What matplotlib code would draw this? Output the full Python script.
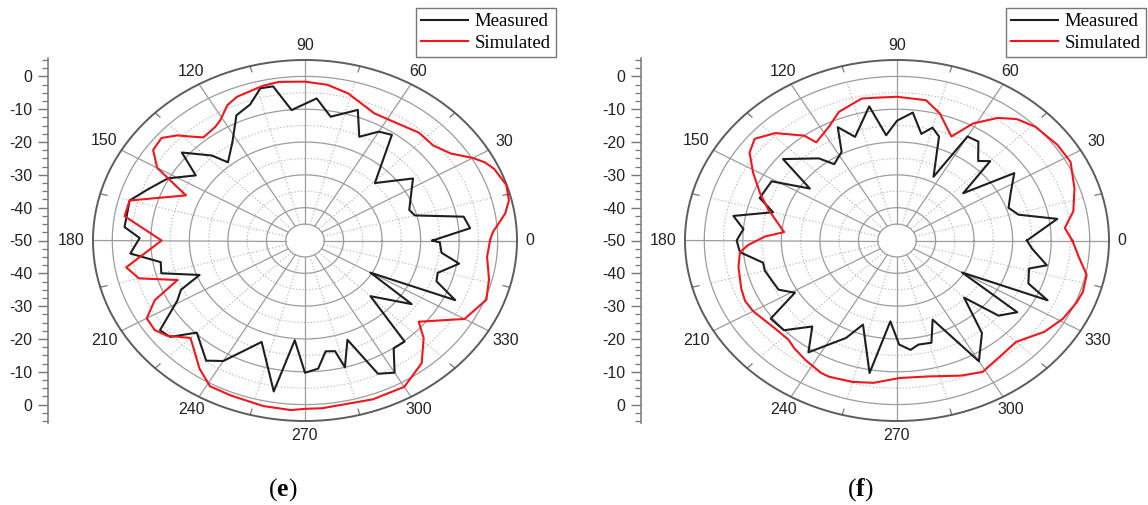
import numpy as np
import matplotlib
matplotlib.use("Agg")
import matplotlib.pyplot as plt
from matplotlib.ticker import MultipleLocator, FixedLocator, FixedFormatter
from matplotlib.lines import Line2D

plt.rcParams["font.family"] = ["Liberation Sans", "DejaVu Sans"]
plt.rcParams["mathtext.fontset"] = "custom"
plt.rcParams["mathtext.rm"] = "Liberation Serif"
plt.rcParams["mathtext.bf"] = "Liberation Serif:bold"

# ---- panel (e): radiation pattern, angle in degrees, gain in dB ----
meas_e_ang = [0, 5, 10, 15, 19, 34, 44, 55, 60, 66, 71, 80, 86, 95, 100, 104, 109, 115, 122, 130,
              133, 140, 145, 152, 159, 165, 175, 179, 185, 190, 195, 201, 205, 209, 216, 220, 225,
              235, 240, 250, 260, 265, 270, 275, 279, 283, 285, 290, 295, 300, 305, 310, 315, 325,
              330, 335, 340, 344, 350, 354, 359]
meas_e_db = [-16.9, -7.0, -8.2, -20.5, -21.4, -16.2, -24.8, -10.7, -11.7, -15.4, -7.9, -11.7, -6.6,
             -10.1, -2.3, -2.2, -6.2, -7.9, -14.5, -18.9, -14.6, -8.3, -15.4, -9.7, -6.4, -2.9, -3.0,
             -7.1, -4.5, -12.0, -11.4, -20.7, -14.5, -12.1, -3.5, -4.3, -10.3, -5.3, -7.6, -17.1,
             -3.3, -19.5, -9.7, -10.8, -15.8, -15.4, -10.0, -17.8, -5.2, -3.5, -9.9, -9.8, -26.0,
             -16.2, -30.4, -7.0, -13.7, -14.2, -9.4, -14.4, -15.0]
sim_e_ang = [0, 3, 9, 13, 18, 24, 27, 30, 35, 41, 48, 56, 65, 76, 83, 90, 98, 103, 112, 116, 121,
             124, 130, 133, 136, 140, 145, 150, 156, 165, 171, 180, 190, 195, 200, 205, 210, 215,
             219, 225, 235, 241, 248, 258, 266, 270, 275, 290, 300, 309, 316, 320, 330, 339, 346, 354]
sim_e_db = [-2.0, -1.2, 2.6, 4.3, 4.9, 3.7, 2.4, 0.3, -3.8, -5.9, -5.8, -7.0, -7.3, -3.8, -2.2, -1.6,
            -1.2, -1.6, -2.8, -4.1, -7.3, -8.3, -9.0, -6.7, -3.9, -1.4, -1.9, -5.7, -16.2, -2.9,
            -2.6, -12.8, -2.9, -5.4, -14.8, -7.0, -2.6, -2.4, -3.9, -8.0, -2.3, 0.8, 1.0, 1.6, 1.8,
            1.3, 1.3, 1.5, 1.5, -1.9, -7.2, -11.5, -2.2, 0.4, -0.8, -2.5]

# ---- panel (f) ----
meas_f_ang = [0, 9, 14, 19, 26, 34, 40, 45, 49, 55, 60, 64, 71, 75, 79, 84, 90, 95, 100, 109, 114,
              118, 125, 129, 140, 145, 151, 160, 165, 170, 175, 180, 185, 191, 195, 206, 211, 216,
              223, 230, 236, 246, 251, 260, 266, 271, 276, 280, 286, 291, 300, 308, 315, 319, 325,
              330, 335, 339, 346, 349, 356]
meas_f_db = [-16.3, -7.9, -17.5, -19.4, -17.2, -13.3, -27.6, -15.8, -17.9, -13.2, -13.4, -28.4,
             -16.5, -14.4, -16.9, -10.8, -13.5, -17.8, -8.5, -16.6, -12.2, -19.4, -21.6, -17.8,
             -11.4, -22.4, -12.8, -12.1, -16.7, -6.9, -10.0, -8.4, -9.1, -14.6, -14.5, -15.8,
             -19.1, -9.5, -9.9, -15.8, -8.9, -17.5, -22.9, -9.0, -25.3, -18.3, -16.5, -17.8, -17.6,
             -24.2, -7.5, -14.2, -25.4, -15.1, -11.9, -30.5, -6.9, -13.5, -14.7, -10.4, -14.9]
sim_f_ang = [0, 5, 11, 19, 28, 35, 44, 50, 55, 61, 66, 74, 80, 90, 98, 102, 111, 117, 125, 127,
             134, 140, 145, 151, 158, 164, 175, 178, 182, 185, 191, 200, 205, 210, 220, 227, 231,
             237, 244, 247, 255, 262, 271, 281, 292, 299, 308, 315, 324, 331, 338, 342, 348, 354]
sim_f_db = [-4.5, -6.3, -3.4, -1.3, 1.0, 0.8, -0.1, -1.7, -4.4, -9.2, -15.3, -9.7, -6.6, -6.2,
            -6.1, -5.8, -8.0, -11.1, -13.5, -10.0, -4.5, -1.8, -3.3, -7.3, -11.7, -15.2, -20.6,
            -15.7, -11.4, -9.1, -8.1, -7.0, -6.5, -6.9, -8.5, -8.7, -7.7, -6.5, -5.1, -4.9, -5.4,
            -6.2, -8.1, -7.8, -5.6, -4.2, -5.8, -6.3, -2.7, -0.8, 0.3, 0.7, 0.3, -2.6]

angle_ticks = list(range(0, 360, 30))
left_ticks = [-50, -40, -30, -20, -10, 0, 10, 20, 30, 40, 50]
left_labels = ["0", "-10", "-20", "-30", "-40", "-50", "-40", "-30", "-20", "-10", "0"]
series_names = ["Measured", "Simulated"]

R_MIN, R_MAX, R_HOLE = -50, 5, -45
W, H = 1148, 505
RX, RY, CY = 212, 180.5, 240.5

fig = plt.figure(figsize=(W / 100, H / 100), dpi=100)

GRID = "#9c9c9c"
DOT = "#b8b8b8"
MEAS_C = "#1e1e1e"
SIM_C = "#f2161c"


def closed(ang, val):
    a = np.deg2rad(np.r_[ang, ang[0] + 360])
    return a, np.r_[val, val[0]]


def draw_panel(cx, axis_x, ang_m, db_m, ang_s, db_s, legend_right, tag, tag_x):
    ax = fig.add_axes([(cx - RX) / W, (H - CY - RY) / H, 2 * RX / W, 2 * RY / H],
                      projection="polar")
    ax.set_aspect("auto")
    ax.set_ylim(R_MIN, R_MAX)
    ax.grid(False)
    ax.set_xticks([])
    ax.set_yticks([])
    ax.spines["polar"].set_color("#5c5c5c")
    ax.spines["polar"].set_linewidth(1.4)

    th = np.linspace(0, 2 * np.pi, 721)
    for r in [R_HOLE, -40, -30, -20, -10, 0]:
        ax.plot(th, np.full_like(th, r), color=GRID, lw=0.9, zorder=1)
    for r in [-35, -25, -15, -5]:
        ax.plot(th, np.full_like(th, r), color=DOT, lw=0.8, ls=(0, (1.2, 1.8)), zorder=1)
    for a in range(0, 360, 30):
        t = np.deg2rad(a)
        ax.plot([t, t], [R_HOLE, R_MAX], color=GRID, lw=0.9, zorder=1, clip_on=False)
    for a in range(15, 360, 30):
        t = np.deg2rad(a)
        ax.plot([t, t], [R_HOLE, 0], color=DOT, lw=0.8, ls=(0, (1.2, 1.8)), zorder=1)
        ax.plot([t, t], [3.2, R_MAX], color="#777777", lw=0.9, zorder=1, clip_on=False)

    a, v = closed(ang_m, db_m)
    ax.plot(a, v, color=MEAS_C, lw=1.5, zorder=3, clip_on=False)
    a, v = closed(ang_s, db_s)
    ax.plot(a, v, color=SIM_C, lw=1.5, zorder=4, clip_on=False)

    # angle labels placed just outside the outer ring
    for a in angle_ticks:
        lab = str(a)
        t = np.deg2rad(a)
        c, s = np.cos(t), np.sin(t)
        w, h = 8.6 * len(lab), 11.5
        half = min(w / 2 / abs(c) if abs(c) > 1e-6 else 1e9,
                   h / 2 / abs(s) if abs(s) > 1e-6 else 1e9)
        k = 8.5 + half
        ax.annotate(lab, xy=(t, R_MAX), xytext=(c * k, s * k), textcoords="offset pixels",
                    ha="center", va="center", fontsize=11.5, color="#222222",
                    annotation_clip=False)

    # linear dB scale on the left, mirrored about the centre
    axl = fig.add_axes([axis_x / W, (H - CY - RY - 2) / H, 0.0005, (2 * RY + 4) / H])
    axl.set_ylim(-55.6, 55.6)
    axl.set_xticks([])
    for sp in ["right", "top", "bottom"]:
        axl.spines[sp].set_visible(False)
    axl.spines["left"].set_color("#777777")
    axl.spines["left"].set_linewidth(1.1)
    axl.patch.set_visible(False)
    axl.yaxis.set_major_locator(FixedLocator(left_ticks))
    axl.yaxis.set_major_formatter(FixedFormatter(left_labels))
    axl.yaxis.set_minor_locator(MultipleLocator(2.5))
    axl.tick_params(axis="y", which="major", length=7, width=1.0, color="#777777",
                    labelsize=11.5, labelcolor="#222222", pad=4)
    axl.tick_params(axis="y", which="minor", length=4, width=0.9, color="#777777")

    handles = [Line2D([], [], color=MEAS_C, lw=1.5), Line2D([], [], color=SIM_C, lw=1.5)]
    leg = fig.legend(handles, series_names, loc="upper right",
                     bbox_to_anchor=(legend_right / W, 1 - 8 / H), bbox_transform=fig.transFigure,
                     frameon=True, fancybox=False, edgecolor="#777777", framealpha=1,
                     prop={"family": "Liberation Serif", "size": 13.5},
                     handlelength=2.5, handletextpad=0.35, borderpad=0.28, labelspacing=0.22,
                     borderaxespad=0)
    leg.get_frame().set_linewidth(1.0)

    fig.text(tag_x / W, 1 - 490 / H, tag, ha="center", va="center", fontsize=18.5,
             family="Liberation Serif")


draw_panel(305, 48, meas_e_ang, meas_e_db, sim_e_ang, sim_e_db, 556, r"($\mathbf{e}$)", 283)
draw_panel(897, 641, meas_f_ang, meas_f_db, sim_f_ang, sim_f_db, 1146, r"($\mathbf{f}$)", 860)

fig.savefig("out.png", dpi=100)
